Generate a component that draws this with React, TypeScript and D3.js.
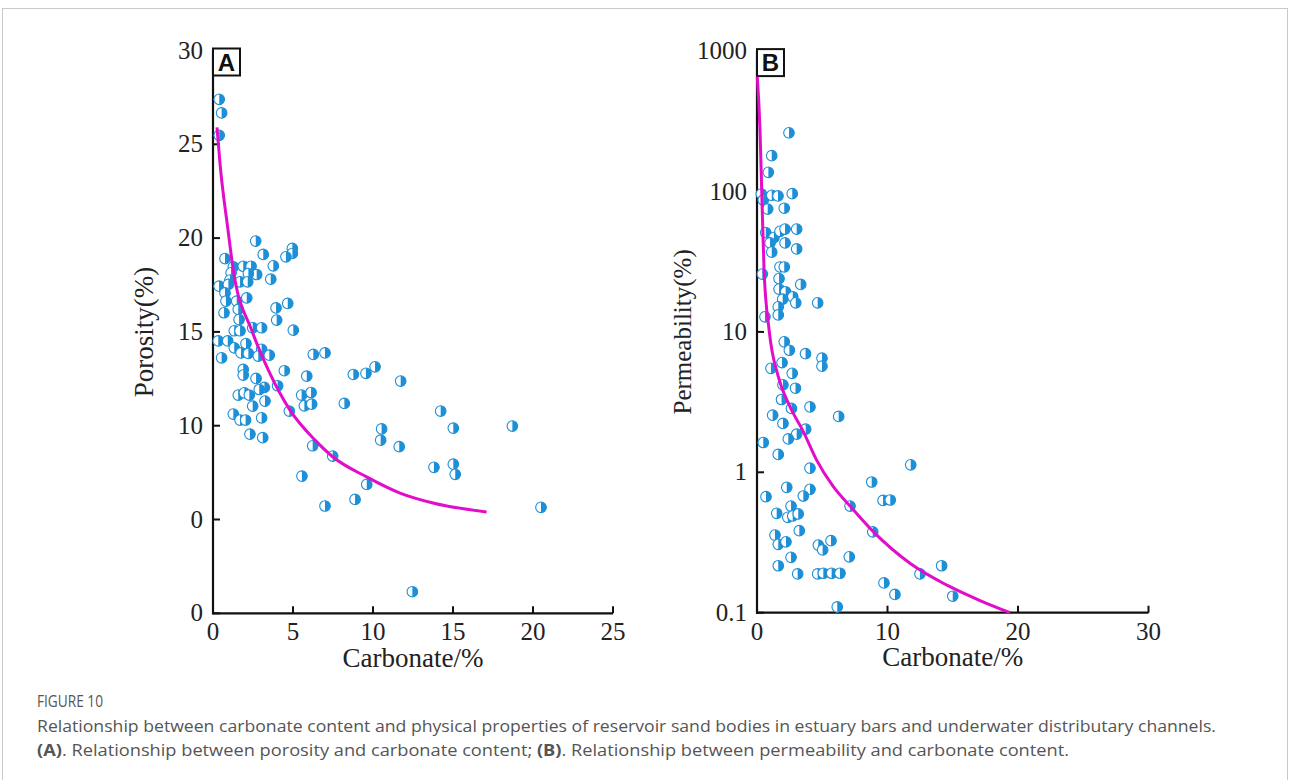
import * as d3 from "d3";

// Panel A – porosity vs carbonate
const carbonateA = [
  2.67, 0.75, 3.14, 4.96, 4.96, 4.56, 3.77, 1.27, 1.89, 2.38, 2.73, 2.21, 1.13, 1.06, 1.69, 2.17,
  3.61, 0.38, 0.96, 0.75, 2.11, 1.48, 0.81, 1.58, 3.94, 4.67, 0.69, 1.63, 3.98, 1.33, 1.69, 2.48,
  3.04, 5.02, 0.33, 0.92, 2.06, 1.33, 1.75, 2.21, 3.04, 2.83, 3.52, 6.27, 7.0, 0.54, 1.89, 1.89,
  2.69, 4.46, 5.86, 3.21, 2.89, 4.04, 1.58, 1.96, 2.27, 3.25, 5.54, 6.13, 5.71, 6.17, 2.48, 4.77,
  1.27, 1.69, 2.04, 3.04, 2.31, 3.11, 6.23, 7.48, 8.77, 9.56, 10.13, 11.73, 8.21, 14.23, 10.54,
  10.48, 11.64, 15.02, 18.71, 5.56, 13.81, 15.02, 15.14, 9.61, 8.88, 7.0, 20.5, 12.46, 0.39, 0.54,
  0.39,
];
const porosityA = [
  19.84, 18.91, 19.13, 19.45, 19.18, 19.0, 18.52, 18.47, 18.5, 18.5, 18.06, 18.11, 18.15, 17.76,
  17.67, 17.67, 17.81, 17.44, 17.53, 17.08, 16.81, 16.64, 16.64, 16.2, 16.28, 16.52, 16.02, 15.66,
  15.63, 15.06, 15.06, 15.22, 15.22, 15.09, 14.52, 14.52, 14.38, 14.15, 13.88, 13.85, 14.07, 13.71,
  13.76, 13.8, 13.88, 13.62, 13.0, 12.7, 12.52, 12.93, 12.64, 12.04, 11.93, 12.13, 11.63, 11.75,
  11.63, 11.31, 11.63, 11.77, 11.06, 11.15, 11.04, 10.78, 10.62, 10.3, 10.3, 10.42, 9.55, 9.36,
  8.93, 8.38, 12.73, 12.79, 13.14, 12.38, 11.19, 10.78, 9.83, 9.23, 8.88, 9.87, 9.98, 7.31, 7.78,
  7.95, 7.41, 6.87, 6.07, 5.72, 5.65, 1.15, 27.4, 26.67, 25.48,
];
const fitCarbonateA = [0.25, 0.44, 0.94, 1.27, 2.42, 3.46, 4.81, 6.38, 7.5, 9.63, 11.69, 13.75, 17.1];
const fitPorosityA = [25.9, 23.96, 20.42, 18.29, 15.09, 12.96, 10.83, 9.23, 8.33, 7.26, 6.41, 5.88, 5.4];
const ticksXA = [0, 5, 10, 15, 20, 25];
const ticksYA = [0, 5, 10, 15, 20, 25, 30];
const tickLabelsYA = ["0", "0", "10", "15", "20", "25", "30"];

// Panel B – permeability vs carbonate
const carbonateB = [
  2.45, 1.13, 0.87, 0.33, 0.48, 1.13, 1.61, 2.7, 0.82, 2.09, 0.67, 1.3, 1.76, 2.15, 3.04, 1.0, 2.15,
  1.13, 3.04, 1.76, 2.09, 0.41, 1.69, 3.35, 1.69, 2.2, 2.74, 1.97, 2.97, 4.65, 1.63, 1.63, 0.61,
  2.09, 2.48, 3.72, 4.98, 4.98, 1.92, 1.07, 2.7, 1.99, 2.95, 1.88, 2.64, 4.06, 1.2, 1.99, 6.26,
  3.73, 3.04, 2.4, 0.48, 1.63, 4.06, 2.28, 4.06, 3.55, 0.69, 8.79, 9.66, 10.21, 2.61, 1.51, 2.36,
  2.74, 3.16, 7.13, 3.24, 8.87, 1.38, 1.63, 2.22, 4.7, 5.03, 5.67, 2.61, 7.07, 1.63, 3.12, 4.65,
  5.08, 5.72, 6.36, 9.73, 10.57, 6.15, 11.78, 14.15, 12.49, 15.0,
];
const permeabilityB = [
  262, 180, 137, 96, 87, 94, 93, 96.5, 75, 76, 51, 47, 52, 54, 54, 43, 43, 37, 39, 29, 29, 25.8, 24,
  21.8, 20.2, 19.3, 17.8, 17.1, 16.1, 16.1, 15.1, 13.2, 12.8, 8.5, 7.4, 7.0, 6.5, 5.7, 6.05, 5.5,
  5.07, 4.2, 3.97, 3.3, 2.85, 2.92, 2.55, 2.23, 2.5, 2.03, 1.87, 1.73, 1.63, 1.34, 1.07, 0.782,
  0.757, 0.678, 0.67, 0.853, 0.63, 0.635, 0.575, 0.51, 0.478, 0.489, 0.505, 0.575, 0.384, 0.377,
  0.357, 0.307, 0.32, 0.303, 0.28, 0.326, 0.248, 0.25, 0.216, 0.189, 0.189, 0.191, 0.191, 0.191,
  0.163, 0.135, 0.11, 1.13, 0.216, 0.189, 0.131,
];
const fitCarbonateB = [0.02, 0.23, 0.36, 0.54, 0.94, 1.63, 2.53, 3.55, 4.57, 5.85, 7.13, 8.91, 11.72, 14.56, 17.09, 19.39];
const fitPermeabilityB = [657, 274, 102.5, 27.6, 10.1, 4.8, 2.93, 1.95, 1.22, 0.79, 0.575, 0.378, 0.225, 0.157, 0.122, 0.1];
const ticksXB = [0, 10, 20, 30];
const ticksYB = [0.1, 1, 10, 100, 1000];
const tickLabelsYB = ["0.1", "1", "10", "100", "1000"];

const BLUE = "#1c8fd6";
const MAGENTA = "#e20ccb";
const SERIF = "'Liberation Serif', 'Times New Roman', serif";
const SANS = "'Open Sans', 'Noto Sans', sans-serif";

function Marker({ cx, cy }: { cx: number; cy: number }) {
  const r = 5.3;
  return (
    <g>
      <circle cx={cx} cy={cy} r={r} fill="#fff" stroke={BLUE} strokeWidth={1.1} />
      <path d={`M${cx},${cy - r} A${r},${r} 0 0 1 ${cx},${cy + r} Z`} fill={BLUE} />
    </g>
  );
}

type Scale = (v: number) => number;

function Axes({
  x, y, xTicks, yTicks, yLabels, xTitle, yTitle, tag, yTitleX, xTitleY, titleSize, yTitleSize,
}: {
  x: d3.ScaleLinear<number, number>;
  y: Scale;
  xTicks: number[];
  yTicks: number[];
  yLabels: string[];
  xTitle: string;
  yTitle: string;
  tag: string;
  yTitleX: number;
  xTitleY: number;
  titleSize: number;
  yTitleSize: number;
}) {
  const [x0, x1] = x.range();
  const y0 = y(yTicks[0]);
  const y1 = y(yTicks[yTicks.length - 1]);
  return (
    <g>
      <line x1={x0} x2={x0} y1={y0 + 1} y2={y1} stroke="#111" strokeWidth={2.2} />
      <line x1={x0 - 1} x2={x1} y1={y0} y2={y0} stroke="#111" strokeWidth={2.2} />
      {xTicks.map((t) => (
        <g key={"x" + t}>
          <line x1={x(t)} x2={x(t)} y1={y0} y2={y0 - 7} stroke="#111" strokeWidth={2} />
          <text x={x(t)} y={y0 + 27} textAnchor="middle" fontFamily={SERIF} fontSize={25} fill="#222">
            {t}
          </text>
        </g>
      ))}
      {yTicks.map((t, i) => (
        <g key={"y" + t}>
          <line x1={x0} x2={x0 + 7} y1={y(t)} y2={y(t)} stroke="#111" strokeWidth={2} />
          <text x={x0 - 10} y={y(t) + 8} textAnchor="end" fontFamily={SERIF} fontSize={25} fill="#222">
            {yLabels[i]}
          </text>
        </g>
      ))}
      <text x={(x0 + x1) / 2} y={xTitleY} textAnchor="middle" fontFamily={SERIF} fontSize={titleSize} fill="#222">
        {xTitle}
      </text>
      <text
        transform={`translate(${yTitleX},${(y0 + y1) / 2}) rotate(-90)`}
        textAnchor="middle"
        fontFamily={SERIF}
        fontSize={yTitleSize}
        fill="#222"
      >
        {yTitle}
      </text>
      <rect x={x0} y={y1 - 2} width={27} height={27} fill="#fff" stroke="#111" strokeWidth={2} />
      <text x={x0 + 13.5} y={y1 + 20} textAnchor="middle" fontFamily="'Liberation Sans', Arial, sans-serif" fontWeight="bold" fontSize={24} fill="#111">
        {tag}
      </text>
    </g>
  );
}

export default function App() {
  const xA = d3.scaleLinear().domain([0, 25]).range([213, 613]);
  const yA = d3.scaleLinear().domain([0, 30]).range([613.3, 50.5]);
  const xB = d3.scaleLinear().domain([0, 30]).range([757, 1148.5]);
  const yB = d3.scaleLog().domain([0.1, 1000]).range([612.7, 51.1]);

  const lineA = d3
    .line<number>()
    .x((d) => xA(d))
    .y((_, i) => yA(fitPorosityA[i]))
    .curve(d3.curveMonotoneX);
  const lineB = d3
    .line<number>()
    .x((d) => xB(d))
    .y((_, i) => yB(fitPermeabilityB[i]))
    .curve(d3.curveMonotoneX);

  return (
    <svg width={1290} height={780} style={{ position: "absolute", left: 0, top: 0, background: "#fff" }}>
      <rect x={2.5} y={8.5} width={1285} height={790} fill="#fff" stroke="#c9c9c9" strokeWidth={1} />

      <Axes
        x={xA}
        y={yA}
        xTicks={ticksXA}
        yTicks={ticksYA}
        yLabels={tickLabelsYA}
        xTitle="Carbonate/%"
        yTitle="Porosity(%)"
        tag="A"
        yTitleX={153}
        xTitleY={667}
        titleSize={27}
        yTitleSize={27}
      />
      {carbonateA.map((c, i) => (
        <Marker key={"a" + i} cx={xA(c)} cy={yA(porosityA[i])} />
      ))}
      <path d={lineA(fitCarbonateA) || ""} fill="none" stroke={MAGENTA} strokeWidth={3} />

      <Axes
        x={xB}
        y={yB}
        xTicks={ticksXB}
        yTicks={ticksYB}
        yLabels={tickLabelsYB}
        xTitle="Carbonate/%"
        yTitle="Permeability(%)"
        tag="B"
        yTitleX={691}
        xTitleY={666}
        titleSize={27}
        yTitleSize={25}
      />
      {carbonateB.map((c, i) => (
        <Marker key={"b" + i} cx={xB(c)} cy={yB(permeabilityB[i])} />
      ))}
      <path d={lineB(fitCarbonateB) || ""} fill="none" stroke={MAGENTA} strokeWidth={3} />

      <text x={37} y={707} fontFamily={SANS} fontSize={16} fill="#555" textLength={66} lengthAdjust="spacingAndGlyphs">
        FIGURE 10
      </text>
      <text x={37} y={732} fontFamily={SANS} fontSize={16} fill="#555" textLength={1179} lengthAdjust="spacingAndGlyphs">
        Relationship between carbonate content and physical properties of reservoir sand bodies in estuary bars and underwater distributary channels.
      </text>
      <text x={37} y={756} fontFamily={SANS} fontSize={16} fill="#555" textLength={1032} lengthAdjust="spacingAndGlyphs">
        <tspan fontWeight="bold">(A)</tspan>. Relationship between porosity and carbonate content;{" "}
        <tspan fontWeight="bold">(B)</tspan>. Relationship between permeability and carbonate content.
      </text>
    </svg>
  );
}
